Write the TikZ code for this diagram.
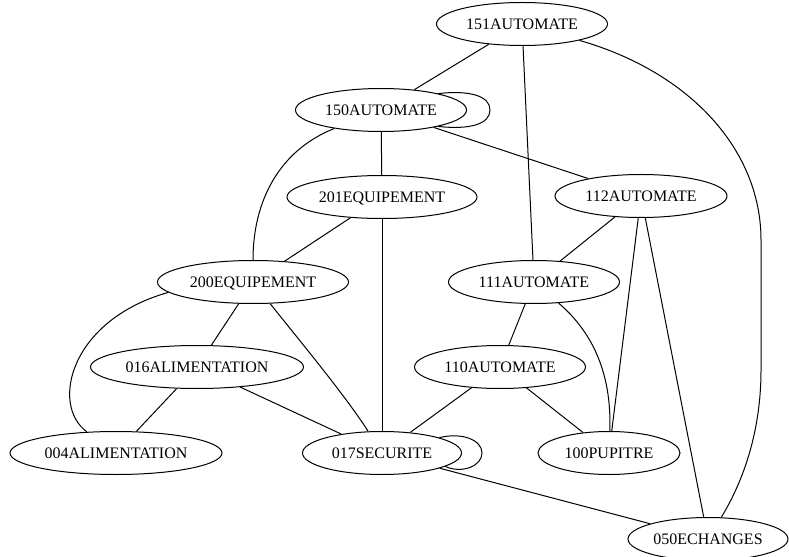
\documentclass[tikz,border=0pt]{standalone}
\usepackage{fontspec}
\setmainfont{Liberation Serif}
\usetikzlibrary{shapes.geometric}
\begin{document}
\begin{tikzpicture}[x=1bp,y=-1bp,
  nd/.style={ellipse,draw,line width=1bp,inner sep=0pt,minimum height=43bp,
    text height=10.6bp,text depth=0bp,font=\fontsize{16bp}{19bp}\selectfont},
  ed/.style={line width=1bp}]
\useasboundingbox (0,0) rectangle (789,557);
\node[nd,minimum width=171bp] (n151) at (522,24) {151AUTOMATE};
\node[nd,minimum width=171bp] (n150) at (381,110) {150AUTOMATE};
\node[nd,minimum width=190bp] (n201) at (382,197) {201EQUIPEMENT};
\node[nd,minimum width=172bp] (n112) at (641,196) {112AUTOMATE};
\node[nd,minimum width=191bp] (n200) at (253,282) {200EQUIPEMENT};
\node[nd,minimum width=171bp] (n111) at (534,282) {111AUTOMATE};
\node[nd,minimum width=213bp] (n016) at (197,367) {016ALIMENTATION};
\node[nd,minimum width=171bp] (n110) at (500,367) {110AUTOMATE};
\node[nd,minimum width=212bp] (n004) at (116,453) {004ALIMENTATION};
\node[nd,minimum width=159bp] (n017) at (382,453) {017SECURITE};
\node[nd,minimum width=142bp] (n100) at (609,453) {100PUPITRE};
\node[nd,minimum width=160bp] (n050) at (708,539) {050ECHANGES};

\draw[ed] (n151) -- (n150);
\draw[ed] (n151) -- (n111);
\draw[ed] (n151) .. controls (690,72) and (761,150) .. (761,240) -- (761,370) .. controls (761,440) and (738,490) .. (n050);
\draw[ed] (n150.16) .. controls (470,90) and (490,96) .. (490,110) .. controls (490,124) and (470,130) .. (n150.-16);
\draw[ed] (n150) -- (n201);
\draw[ed] (n150) -- (n112);
\draw[ed] (n150) .. controls (280,150) and (253,200) .. (n200);
\draw[ed] (n201) -- (n200);
\draw[ed] (n201) -- (n017);
\draw[ed] (n112) -- (n111);
\draw[ed] (n112) -- (n100);
\draw[ed] (n112) -- (n050);
\draw[ed] (n200) -- (n016);
\draw[ed] (n200.187) .. controls (70,320) and (50,405) .. (n004);
\draw[ed] (n200) .. controls (295,335) and (345,395) .. (n017);
\draw[ed] (n111) -- (n110);
\draw[ed] (n111) .. controls (590,330) and (612,370) .. (n100);
\draw[ed] (n016) -- (n004);
\draw[ed] (n016) -- (n017);
\draw[ed] (n110) -- (n017);
\draw[ed] (n110) -- (n100);
\draw[ed] (n017.15) .. controls (462,432) and (482,440) .. (482,453) .. controls (482,466) and (462,474) .. (n017.-12);
\draw[ed] (n017) -- (n050);
\end{tikzpicture}
\end{document}
